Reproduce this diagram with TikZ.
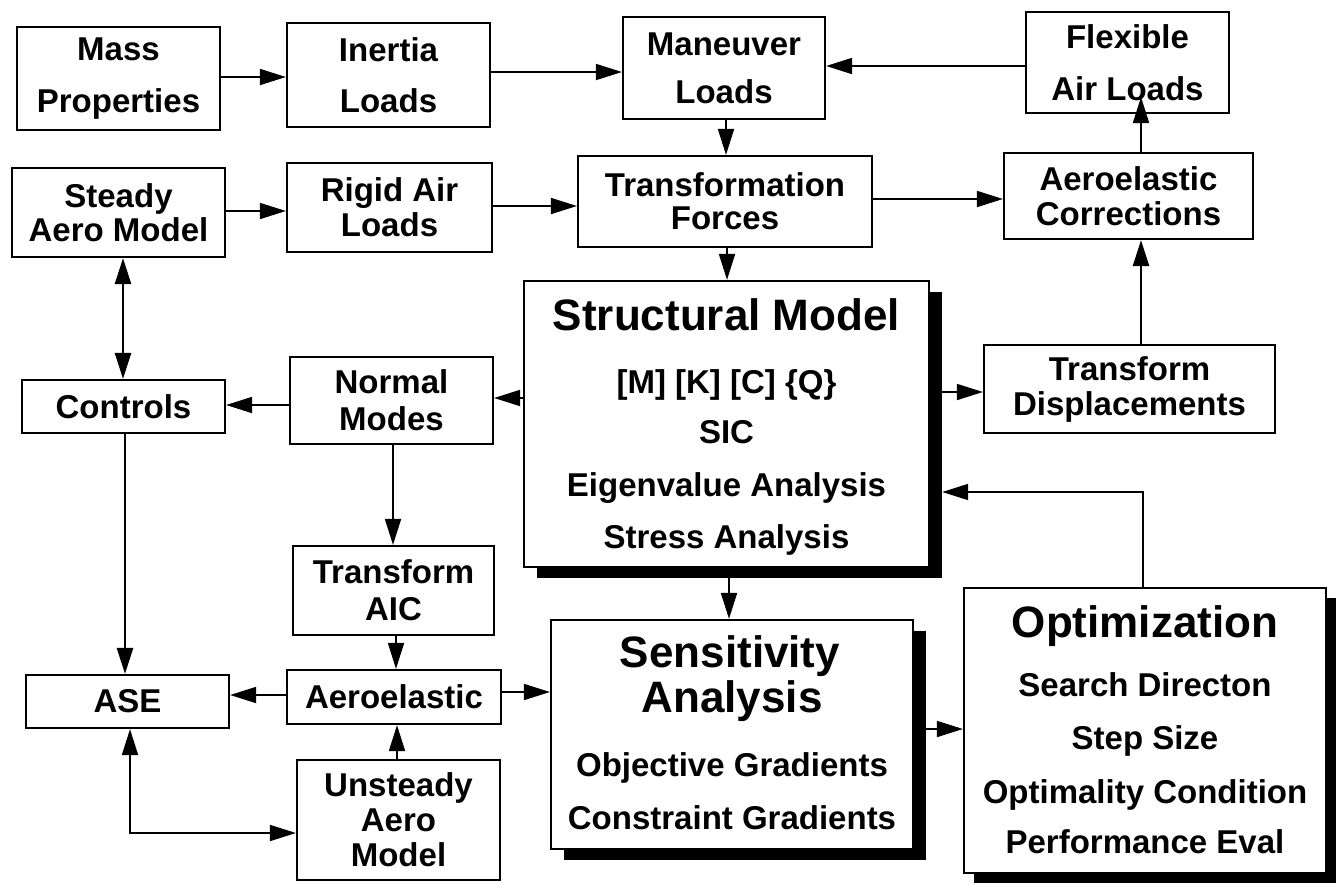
\documentclass[tikz,border=0pt]{standalone}
\usepackage{fontspec}
\setmainfont{Liberation Sans}
\usetikzlibrary{arrows.meta}
\begin{document}
\begin{tikzpicture}[x=1pt,y=-1pt,
  blockbox/.style={draw, line width=2.2pt, fill=white, inner sep=0pt, align=center,
    font=\fontsize{33}{35}\selectfont\bfseries},
  lead/.style={font=\fontsize{33}{#1}\selectfont\bfseries},
  sz/.style 2 args={minimum width=#1pt, minimum height=#2pt},
  shadowbox/.style={fill=black, inner sep=0pt},
  titletext/.style={anchor=base, inner sep=0pt, font=\fontsize{44}{44}\selectfont\bfseries},
  linetext/.style={anchor=base, inner sep=0pt, font=\fontsize{33}{33}\selectfont\bfseries},
  tip/.tip={Triangle[length=26pt 0, width=16pt 0]},
  arr/.style={line width=1.8pt, -tip},
  arrthick/.style={arr, line width=2.6pt},
  arrboth/.style={line width=1.8pt, tip-tip},
  arrbothick/.style={arrboth, line width=2.6pt}
]
\fill[white] (0,0) rectangle (1343,884);
\useasboundingbox (0,0) rectangle (1343,884);

% ---- upper rows: loads ----
\node[blockbox, sz={203}{103}, lead=52] (mass)     at (118.5,78.5)  {Mass\\Properties};
\node[blockbox, sz={203}{104}, lead=51] (inertia)  at (388.5,75)    {Inertia\\Loads};
\node[blockbox, sz={202}{102}, lead=48] (maneuver) at (724,68)      {Maneuver\\Loads};
\node[blockbox, sz={203}{101}, lead=52] (flex)     at (1127.5,62.5) {Flexible\\Air Loads};

\node[blockbox, sz={213}{89}, lead=34] (steady)   at (118.5,212.5) {Steady\\Aero Model};
\node[blockbox, sz={205}{89}, lead=35] (rigid)    at (389.5,207.5) {Rigid Air\\Loads};
\node[blockbox, sz={294}{91}, lead=33] (transf)   at (725,201.5)   {Transformation\\Forces};
\node[blockbox, sz={249}{86}, lead=35] (aerocorr) at (1128.5,196)  {Aeroelastic\\Corrections};

% ---- structural model ----
\node[shadowbox, sz={405}{286}] (structsh) at (739.5,435) {};
\node[blockbox, sz={405}{286}] (struct) at (726.5,424) {};
\node[titletext] (st1) at (726.5,330.8) {Structural Model};
\node[linetext]  (st2) at (726.5,393.8) {[M] [K] [C] \{Q\}};
\node[linetext]  (st3) at (726.5,443.8) {SIC};
\node[linetext]  (st4) at (726.5,496.8) {Eigenvalue Analysis};
\node[linetext]  (st5) at (726.5,548.8) {Stress Analysis};

% ---- left column ----
\node[blockbox, sz={203}{53}]          (controls)  at (123.5,406.5) {Controls};
\node[blockbox, sz={203}{87}, lead=37] (normal)    at (391.5,400.5) {Normal\\Modes};
\node[blockbox, sz={291}{88}, lead=35] (transdisp) at (1129.5,389)  {Transform\\Displacements};
\node[blockbox, sz={201}{89}, lead=37] (transaic)  at (393.5,590.5) {Transform\\AIC};
\node[blockbox, sz={203}{53}]          (ase)       at (127.5,701.5) {ASE};
\node[blockbox, sz={214}{54}]          (aeroel)    at (394,697)     {Aeroelastic};
\node[blockbox, sz={203}{120}, lead=35] (unsteady) at (398.5,820)   {Unsteady\\Aero\\Model};

% ---- sensitivity analysis ----
\node[shadowbox, sz={362}{229}] (senssh) at (745,745.5) {};
\node[blockbox, sz={362}{229}] (sens) at (732,734.5) {};
\node[titletext] (se1) at (730,667.8) {Sensitivity};
\node[titletext] (se2) at (732,712.8) {Analysis};
\node[linetext]  (se3) at (732,776.8) {Objective Gradients};
\node[linetext]  (se4) at (732,829.8) {Constraint Gradients};

% ---- optimization ----
\node[shadowbox, sz={362}{285}] (optsh) at (1155,740.5) {};
\node[blockbox, sz={362}{285}] (opt) at (1145,730.5) {};
\node[titletext] (op1) at (1145,637.8) {Optimization};
\node[linetext]  (op2) at (1145,696.8) {Search Directon};
\node[linetext]  (op3) at (1145,749.8) {Step Size};
\node[linetext]  (op4) at (1145,803.8) {Optimality Condition};
\node[linetext]  (op5) at (1145,853.8) {Performance Eval};

\coordinate (flexin) at (1141,97);

% ---- connectors ----
\draw[arr] (mass.east |- 0,77) -- (inertia.west |- 0,77);
\draw[arr] (inertia.east |- 0,72) -- (maneuver.west |- 0,72);
\draw[arr] (flex.west |- 0,66) -- (maneuver.east |- 0,66);
\draw[arr] (maneuver.south -| 726,0) -- (transf.north -| 726,0);
\draw[arr] (steady.east |- 0,211) -- (rigid.west |- 0,211);
\draw[arr] (rigid.east |- 0,206) -- (transf.west |- 0,206);
\draw[arr] (transf.east |- 0,199) -- (aerocorr.west |- 0,199);
\draw[arr] (aerocorr.north -| 1141,0) -- (flexin);
\draw[arr] (transf.south -| 727,0) -- (struct.north -| 727,0);
\draw[arrthick] (transdisp.north -| 1141,0) -- (aerocorr.south -| 1141,0);
\draw[arr] (structsh.east |- 0,392) -- (transdisp.west |- 0,392);
\draw[arr] (struct.west |- 0,398) -- (normal.east |- 0,398);
\draw[arr] (normal.west |- 0,405) -- (controls.east |- 0,405);
\draw[arrbothick] (steady.south -| 123,0) -- (controls.north -| 123,0);
\draw[arrthick] (controls.south -| 125,0) -- (ase.north -| 125,0);
\draw[arr] (normal.south -| 393,0) -- (transaic.north -| 393,0);
\draw[arr] (transaic.south -| 396,0) -- (aeroel.north -| 396,0);
\draw[arr] (unsteady.north -| 397,0) -- (aeroel.south -| 397,0);
\draw[arr] (aeroel.west |- 0,695) -- (ase.east |- 0,695);
\draw[arr] (aeroel.east |- 0,692) -- (sens.west |- 0,692);
\draw[arrboth] (ase.south -| 130,0) |- (unsteady.west |- 0,833);
\draw[arr] (structsh.south -| 729,0) -- (sens.north -| 729,0);
\draw[arr] (senssh.east |- 0,729) -- (opt.west |- 0,729);
\draw[arr] (opt.north -| 1143,0) |- (structsh.east |- 0,492);
\end{tikzpicture}
\end{document}
